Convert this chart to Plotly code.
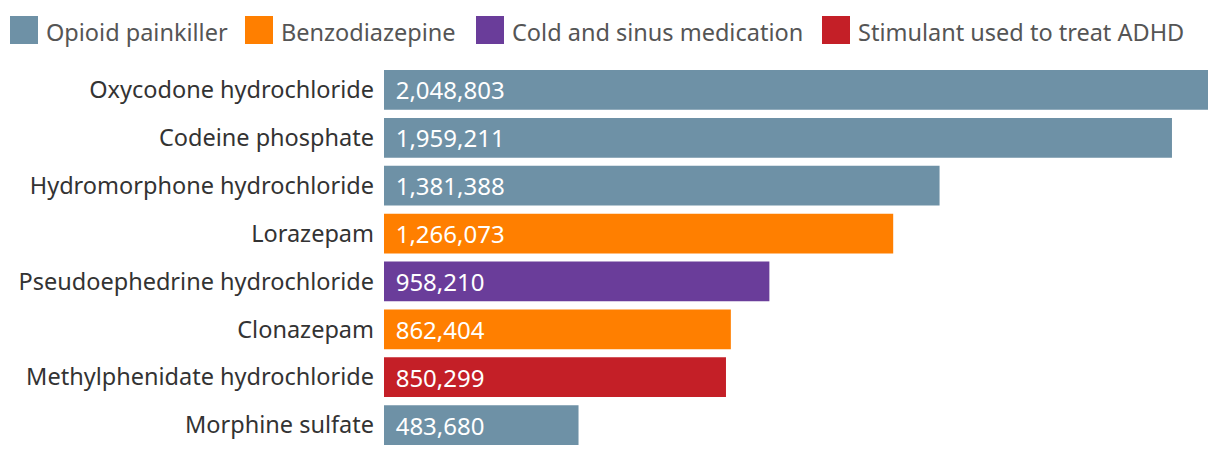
import plotly.graph_objects as go

drugs = ["Oxycodone hydrochloride", "Codeine phosphate", "Hydromorphone hydrochloride",
         "Lorazepam", "Pseudoephedrine hydrochloride", "Clonazepam",
         "Methylphenidate hydrochloride", "Morphine sulfate"]
values = [2048803, 1959211, 1381388, 1266073, 958210, 862404, 850299, 483680]
classes = ["Opioid painkiller", "Opioid painkiller", "Opioid painkiller", "Benzodiazepine",
           "Cold and sinus medication", "Benzodiazepine", "Stimulant used to treat ADHD",
           "Opioid painkiller"]
legend_items = ["Opioid painkiller", "Benzodiazepine", "Cold and sinus medication",
                "Stimulant used to treat ADHD"]
class_colors = {
    "Opioid painkiller": "#6e91a6",
    "Benzodiazepine": "#ff7f00",
    "Cold and sinus medication": "#6a3d9a",
    "Stimulant used to treat ADHD": "#c41f27",
}

# page body has an 8px margin, so figure coords = screen coords - 8
W, H = 1212, 450
L, R, T, B = 376, 12, 58, 9
pw, ph = W - L - R, H - T - B

FONT = "Noto Sans"

fig = go.Figure(go.Bar(
    x=values, y=drugs, orientation="h",
    marker=dict(color=[class_colors[c] for c in classes], line=dict(width=0)),
    text=[" \u200a" + f"{v:,}" for v in values],
    textposition="inside", insidetextanchor="start",
    textfont=dict(color="white", size=24, family=FONT),
    cliponaxis=False, hoverinfo="skip", showlegend=False,
))

def px2x(px):
    return (px - L) / pw

def py2y(py):
    return (H - B - py) / ph

legend_x = [2, 237, 468, 814]
shapes, annotations = [], []
for name, x0 in zip(legend_items, legend_x):
    shapes.append(dict(type="rect", xref="paper", yref="paper",
                       x0=px2x(x0), x1=px2x(x0 + 28), y0=py2y(36), y1=py2y(8),
                       fillcolor=class_colors[name], line=dict(width=0)))
    annotations.append(dict(xref="paper", yref="paper", x=px2x(x0 + 34), y=py2y(24),
                            text=name, showarrow=False, xanchor="left", yanchor="middle",
                            font=dict(size=23.5, color="#555555", family=FONT)))

fig.update_layout(
    width=W, height=H,
    margin=dict(l=L, r=R, t=T, b=B, autoexpand=False),
    paper_bgcolor="white", plot_bgcolor="white",
    bargap=0.17,
    uniformtext=dict(minsize=24, mode="show"),
    shapes=shapes, annotations=annotations,
    xaxis=dict(range=[0, max(values)], visible=False, fixedrange=True),
    yaxis=dict(autorange="reversed", showgrid=False, showline=False, zeroline=False,
               ticks="", ticklabelstandoff=9,
               tickfont=dict(size=23.5, color="#333333", family=FONT),
               automargin=False, fixedrange=True),
    font=dict(family=FONT),
)

fig.write_html("out.html")
